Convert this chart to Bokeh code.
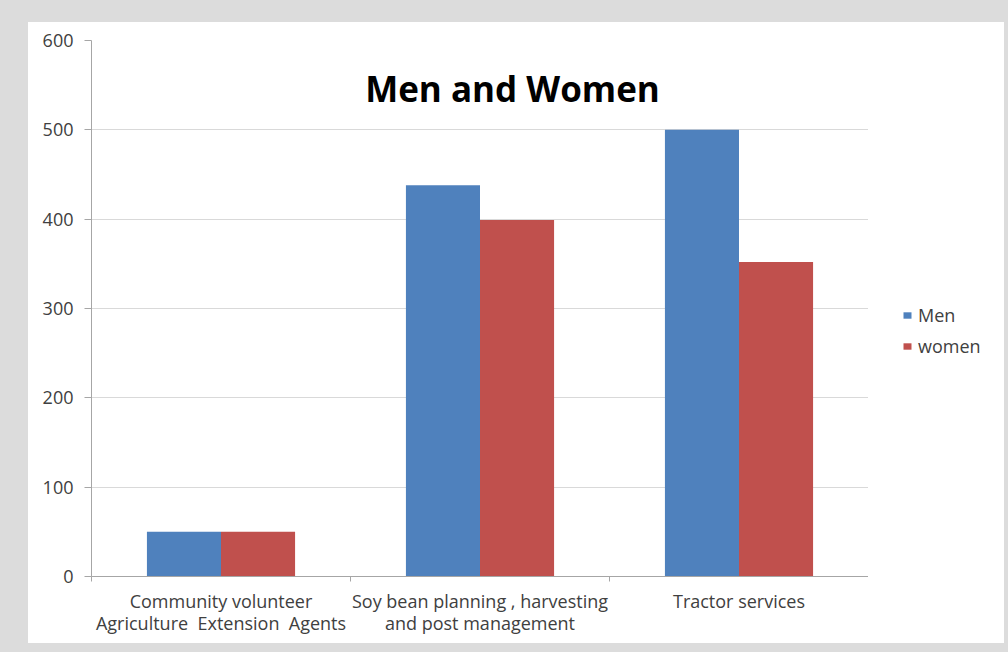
from bokeh.plotting import figure
from bokeh.models import (ColumnDataSource, FixedTicker, Range1d, Label, Legend,
                          LegendItem)
from bokeh.layouts import column, row
from bokeh.transform import dodge
from bokeh.embed import file_html
from bokeh.resources import INLINE

categories = ["Community volunteer\nAgriculture\u00a0 Extension\u00a0 Agents",
              "Soy bean planning , harvesting\nand post management",
              "Tractor services"]
series = ["Men", "women"]
men = [50, 438, 500]
women = [50, 399, 352]
colors = ["#4f81bd", "#c0504d"]
y_ticks = [0, 100, 200, 300, 400, 500, 600]

pos = list(range(len(categories)))
src = ColumnDataSource(dict(x=pos, men=men, women=women))

FONT = "Open Sans"
TXT = "#404040"

p = figure(width=840, height=621, output_backend="svg", toolbar_location=None,
           x_range=Range1d(-0.5, len(categories) - 0.5), y_range=Range1d(0, 600),
           min_border_left=63, min_border_right=0, min_border_top=18,
           min_border_bottom=67, margin=0,
           background_fill_color="white", border_fill_color="white",
           outline_line_color=None)

bw = 0.286
r1 = p.vbar(x=dodge("x", -bw / 2, range=p.x_range), top="men", width=bw,
            source=src, fill_color=colors[0], line_color=None)
r2 = p.vbar(x=dodge("x", bw / 2, range=p.x_range), top="women", width=bw,
            source=src, fill_color=colors[1], line_color=None)

# x axis
xa = p.xaxis[0]
xa.ticker = FixedTicker(ticks=pos, minor_ticks=[i - 0.5 for i in range(len(categories) + 1)])
xa.major_label_overrides = {i: c for i, c in zip(pos, categories)}
xa.major_tick_line_color = None
xa.minor_tick_line_color = "#a6a6a6"
xa.minor_tick_out = 5
xa.minor_tick_in = 0
xa.axis_line_color = "#a6a6a6"
xa.major_label_text_font = FONT
xa.major_label_text_font_size = "18px"
xa.major_label_text_color = TXT
xa.major_label_text_line_height = 0.95
xa.major_label_standoff = 6

# y axis
ya = p.yaxis[0]
ya.ticker = FixedTicker(ticks=y_ticks, minor_ticks=[])
ya.axis_line_color = "#a6a6a6"
ya.major_tick_line_color = "#a6a6a6"
ya.major_tick_out = 7
ya.major_tick_in = 0
ya.major_label_text_font = FONT
ya.major_label_text_font_size = "18px"
ya.major_label_text_color = TXT
ya.major_label_standoff = 11

p.xgrid.grid_line_color = None
p.ygrid.grid_line_color = "#d9d9d9"
p.ygrid.ticker = FixedTicker(ticks=y_ticks)

title = Label(x=1.1255, y=546, text="Men and Women", text_font=FONT,
              text_font_style="bold", text_font_size="35px", text_color="black",
              text_align="center", text_baseline="middle")
p.add_layout(title)

# legend panel to the right of the plot
lf = figure(width=136, height=621, output_backend="svg", toolbar_location=None,
            x_range=Range1d(0, 1), y_range=Range1d(0, 1),
            x_axis_type=None, y_axis_type=None,
            min_border_left=0, min_border_right=0, min_border_top=0,
            min_border_bottom=0, margin=0,
            background_fill_color="white", border_fill_color="white",
            outline_line_color=None)
lf.xgrid.grid_line_color = None
lf.ygrid.grid_line_color = None
nan = float("nan")
swatches = [lf.vbar(x=[nan], top=[nan], width=0.1, fill_color=c, line_color=None)
            for c in colors]

legend = Legend(items=[LegendItem(label=s, renderers=[r])
                       for s, r in zip(series, swatches)],
                location=(34, 218), orientation="vertical",
                glyph_width=10, glyph_height=8, label_height=16, spacing=7,
                padding=0, margin=0, border_line_color=None,
                background_fill_alpha=0, label_text_font=FONT,
                label_text_font_size="18px", label_text_color=TXT,
                label_standoff=6)
lf.add_layout(legend)

panel = row(p, lf, margin=(22, 4, 9, 28),
            styles={"background-color": "white"})
layout = column(panel, width=1008, height=652,
                styles={"background-color": "#dcdcdc"})

open("out.html", "w").write(file_html(layout, INLINE))
